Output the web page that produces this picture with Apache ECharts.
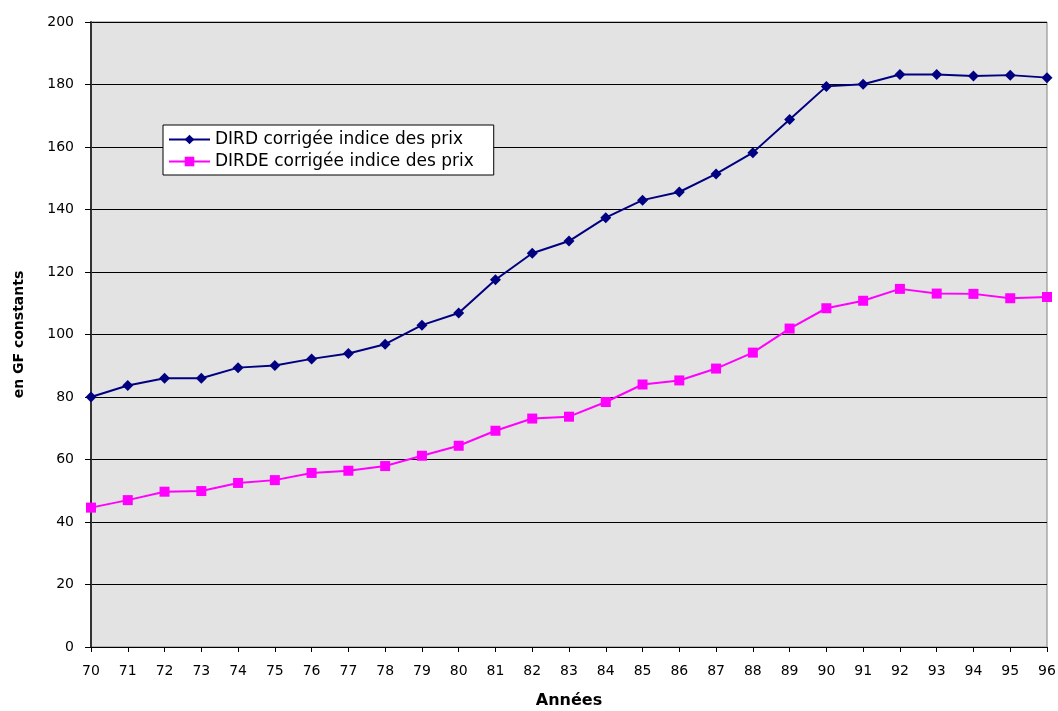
<!DOCTYPE html>
<html><head><meta charset="utf-8">
<script src="https://cdn.jsdelivr.net/npm/echarts@6/dist/echarts.min.js"></script>
<style>html,body{margin:0;padding:0;background:#fff}#c{width:1058px;height:711px}</style>
</head><body><div id="c"></div>
<script>
const years = ['70','71','72','73','74','75','76','77','78','79','80','81','82','83','84','85','86','87','88','89','90','91','92','93','94','95','96'];
const dird = [80.0,83.7,86.0,86.0,89.4,90.1,92.2,93.9,96.9,103.0,106.9,117.5,126.0,129.9,137.4,143.0,145.6,151.4,158.2,168.8,179.4,180.1,183.2,183.2,182.7,183.0,182.2];
const dirde = [44.6,47.0,49.7,49.9,52.5,53.4,55.7,56.4,57.9,61.2,64.4,69.2,73.1,73.7,78.4,84.0,85.3,89.1,94.2,101.9,108.4,110.8,114.6,113.1,113.0,111.6,112.0];
const seriesNames = ['DIRD corrigée indice des prix','DIRDE corrigée indice des prix'];
const yTitle = 'en GF constants';
const xTitle = 'Années';

const font = 'DejaVu Sans, Liberation Sans, Arial, sans-serif';
const chart = echarts.init(document.getElementById('c'), null, {renderer:'canvas'});
chart.setOption({
  animation:false,
  backgroundColor:'#fff',
  grid:{left:91,right:11,top:22,bottom:64,containLabel:false,outerBoundsMode:'none',
        show:true,backgroundColor:'#e3e3e3',borderColor:'#808080',borderWidth:1},
  legend:{
    orient:'vertical',left:163,top:125,
    backgroundColor:'#fff',borderColor:'#000',borderWidth:1,borderRadius:0,
    padding:[6,20,5,5],itemGap:5,itemWidth:41,itemHeight:12,
    textStyle:{fontFamily:font,fontSize:17,color:'#000'},
    data:seriesNames
  },
  xAxis:{
    type:'category',data:years,boundaryGap:false,
    name:xTitle,nameLocation:'middle',nameGap:46,
    nameTextStyle:{fontFamily:font,fontSize:16,fontWeight:'bold',color:'#000'},
    axisLine:{lineStyle:{color:'#000',width:1}},
    axisTick:{show:true,length:5,lineStyle:{color:'#000'}},
    axisLabel:{fontFamily:font,fontSize:14,color:'#000',margin:17,interval:0},
    splitLine:{show:false}
  },
  yAxis:{
    type:'value',min:0,max:200,interval:20,
    name:yTitle,nameLocation:'middle',nameGap:65,nameRotate:90,
    nameTextStyle:{fontFamily:font,fontSize:14,fontWeight:'bold',color:'#000'},
    axisLine:{show:true,lineStyle:{color:'#333',width:2}},
    axisTick:{show:true,length:6,lineStyle:{color:'#000'}},
    axisLabel:{fontFamily:font,fontSize:14,color:'#000',margin:17},
    splitLine:{show:true,lineStyle:{color:'#000',width:1}}
  },
  series:[
    {name:seriesNames[0],type:'line',data:dird,symbol:'diamond',symbolSize:11,
     lineStyle:{color:'#000080',width:2},itemStyle:{color:'#000080'}},
    {name:seriesNames[1],type:'line',data:dirde,symbol:'rect',symbolSize:10,
     lineStyle:{color:'#ff00ff',width:2},itemStyle:{color:'#ff00ff'}}
  ]
});
</script></body></html>
